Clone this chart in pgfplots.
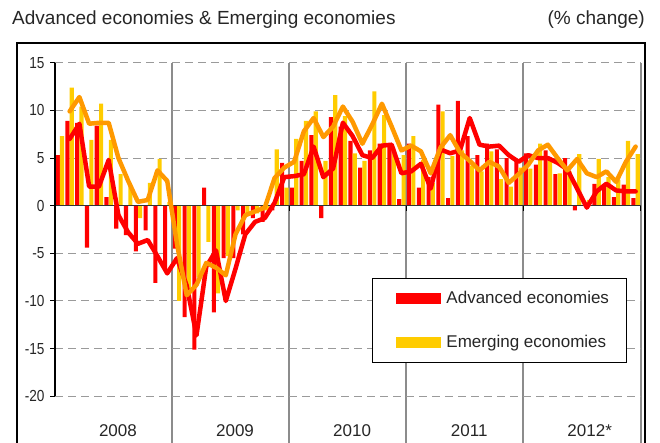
\documentclass[border=0pt]{standalone}
\usepackage{fontspec}
\setmainfont{Liberation Sans}
\newfontfamily\narrowfont{Liberation Sans}[FakeStretch=0.85]
\usepackage{pgfplots}
\usepackage{pgfplotstable}
\pgfplotsset{compat=1.18}
\definecolor{advred}{HTML}{FF0000}
\definecolor{emgyel}{HTML}{FFCC00}
\definecolor{emgorg}{HTML}{FF9900}
\definecolor{sepgray}{HTML}{8C8C8C}
\definecolor{gridgray}{HTML}{9A9A9A}
\pgfplotstableread{
m adv emg advl emgl
0 5.3 7.3 nan nan
1 8.9 12.4 7.0 9.9
2 8.7 10.4 8.6 11.4
3 -4.4 6.9 2.0 8.6
4 8.4 10.7 2.0 8.7
5 0.9 6.9 4.8 8.7
6 -2.4 3.3 -1.0 5.0
7 -3.1 2.2 -2.8 2.6
8 -4.8 -1.3 -4.0 0.4
9 -2.6 2.4 -3.6 0.6
10 -8.1 4.9 -5.3 3.7
11 -6.6 0.4 -7.1 2.6
12 -4.5 -10.0 -5.5 -4.0
13 -11.7 -9.3 -8.4 -9.4
14 -15.1 -7.5 -13.6 -8.3
15 1.9 -3.8 -6.4 -6.0
16 -11.2 -9.2 -4.7 -6.5
17 -5.5 -5.3 -10.0 -7.3
18 -5.5 -0.5 -6.6 -3.0
19 -3.0 -1.0 -3.0 -1.0
20 -1.3 -0.8 -1.7 -0.6
21 -1.7 -0.5 -1.3 -0.2
22 -0.5 5.9 0.3 2.9
23 4.5 1.9 3.0 4.0
24 1.9 7.0 3.1 4.6
25 4.7 8.9 3.3 7.8
26 7.4 9.9 6.2 9.2
27 -1.3 4.7 3.0 7.2
28 9.3 11.6 3.9 8.3
29 8.3 9.4 8.7 10.4
30 6.8 5.5 7.3 8.8
31 4.0 4.7 5.3 6.5
32 5.8 12.0 5.0 8.5
33 6.5 9.5 6.3 10.7
34 6.5 5.5 6.4 8.3
35 0.7 5.3 3.4 5.8
36 6.5 7.3 3.6 6.3
37 1.9 4.8 4.4 5.7
38 3.0 2.4 1.8 3.4
39 10.6 9.9 5.9 6.1
40 0.8 5.2 5.5 7.4
41 11.0 5.8 5.8 5.6
42 7.3 4.2 9.2 4.7
43 5.3 3.6 6.4 3.7
44 6.5 5.7 6.2 4.6
45 5.9 2.8 6.3 4.1
46 5.0 2.0 5.3 2.4
47 4.7 4.0 4.6 3.3
48 5.5 3.9 5.3 4.3
49 4.3 6.5 5.0 5.8
50 5.8 5.1 5.0 6.4
51 3.3 3.4 4.5 5.0
52 5.0 3.6 3.8 3.7
53 -0.5 5.4 1.8 4.9
54 0.1 0.6 -0.2 3.4
55 2.3 4.9 1.5 3.0
56 2.0 3.0 2.3 3.6
57 0.9 2.7 1.6 2.5
58 2.2 6.8 1.5 4.6
59 0.8 5.4 1.5 6.2
}\data

\begin{document}
\begin{tikzpicture}[x=1bp,y=1bp]
\path[use as bounding box] (0,0) rectangle (660,443);
\begin{axis}[
  at={(55bp,0bp)}, anchor=south west,
  width=585.5bp, height=380.25bp, scale only axis,
  xmin=0, xmax=60, ymin=-24.9, ymax=15,
  axis line style={draw=none},
  xtick={12,24,36,48,60},
  xticklabels={},
  xtick pos=left,
  xmajorgrids,
  major x grid style={sepgray, line width=2bp, solid},
  x tick style={draw=none},
  ytick={-20,-15,...,15},
  ytick pos=left,
  tick align=outside,
  major tick length=5bp,
  y tick style={black, line width=1bp},
  ymajorgrids,
  major y grid style={gridgray, dash pattern=on 8bp off 5bp, line width=1bp},
  yticklabel style={font=\narrowfont\fontsize{16bp}{18bp}\selectfont, text=black!85, xshift=-2bp},
  /pgf/number format/assume math mode=true,
  clip=false,
  legend style={at={(0.5414,0.4339)}, anchor=north west,
    draw=black, line width=1bp, fill=white,
    font=\fontsize{17bp}{20bp}\selectfont, text=black!85,
    inner xsep=15bp, inner ysep=11bp, row sep=26bp},
  legend cell align=left,
]
\addplot[ybar, bar width=0.42, bar shift=0pt, fill=advred, draw=none,
  legend image code/.code={\path[draw=none,fill=none] (-6bp,0) rectangle (51bp,0.1bp); \fill[advred] (3bp,-5.5bp) rectangle (48bp,5.5bp);}]
  table[x expr=\thisrow{m}+0.28, y=adv]{\data};
\addlegendentry{Advanced economies}
\addplot[ybar, bar width=0.42, bar shift=0pt, fill=emgyel, draw=none,
  legend image code/.code={\path[draw=none,fill=none] (-6bp,0) rectangle (51bp,0.1bp); \fill[emgyel] (3bp,-5.5bp) rectangle (48bp,5.5bp);}]
  table[x expr=\thisrow{m}+0.72, y=emg]{\data};
\addlegendentry{Emerging economies}
\draw[black!80, line width=1.5bp] (axis cs:0,0) -- (axis cs:60,0);
\draw[black, line width=1.2bp] (axis cs:12,0) -- (axis cs:12,-0.55);
\draw[black, line width=1.2bp] (axis cs:24,0) -- (axis cs:24,-0.55);
\draw[black, line width=1.2bp] (axis cs:36,0) -- (axis cs:36,-0.55);
\draw[black, line width=1.2bp] (axis cs:48,0) -- (axis cs:48,-0.55);
\draw[black, line width=1.2bp] (axis cs:60,0) -- (axis cs:60,-0.55);
\draw[black, line width=1.2bp] (axis cs:0,15) -- (axis cs:0,-20);
\addplot[advred, line width=4.5bp, line join=round, line cap=round, forget plot]
  table[x expr=\thisrow{m}+0.5, y=advl]{\data};
\addplot[emgorg, line width=4.5bp, line join=round, line cap=round, forget plot]
  table[x expr=\thisrow{m}+0.5, y=emgl]{\data};
\node[anchor=base, font=\fontsize{17bp}{20bp}\selectfont, text=black!85] at (axis cs:6.45,-24.22) {2008};
\node[anchor=base, font=\fontsize{17bp}{20bp}\selectfont, text=black!85] at (axis cs:18.45,-24.22) {2009};
\node[anchor=base, font=\fontsize{17bp}{20bp}\selectfont, text=black!85] at (axis cs:30.45,-24.22) {2010};
\node[anchor=base, font=\fontsize{17bp}{20bp}\selectfont, text=black!85] at (axis cs:42.45,-24.22) {2011};
\node[anchor=base, font=\fontsize{17bp}{20bp}\selectfont, text=black!85] at (axis cs:54.45,-24.22) {2012\rlap{*}};
\end{axis}
\draw[black, line width=1.6bp] (17,-5) -- (17,400) -- (645,400) -- (645,-5);
\node[anchor=base west, inner sep=0, font=\fontsize{19bp}{22bp}\selectfont, text=black!85] at (12,418) {Advanced economies \& Emerging economies};
\node[anchor=base east, inner sep=0, font=\fontsize{19bp}{22bp}\selectfont, text=black!85] at (645,418) {(\% change)};
\end{tikzpicture}
\end{document}
